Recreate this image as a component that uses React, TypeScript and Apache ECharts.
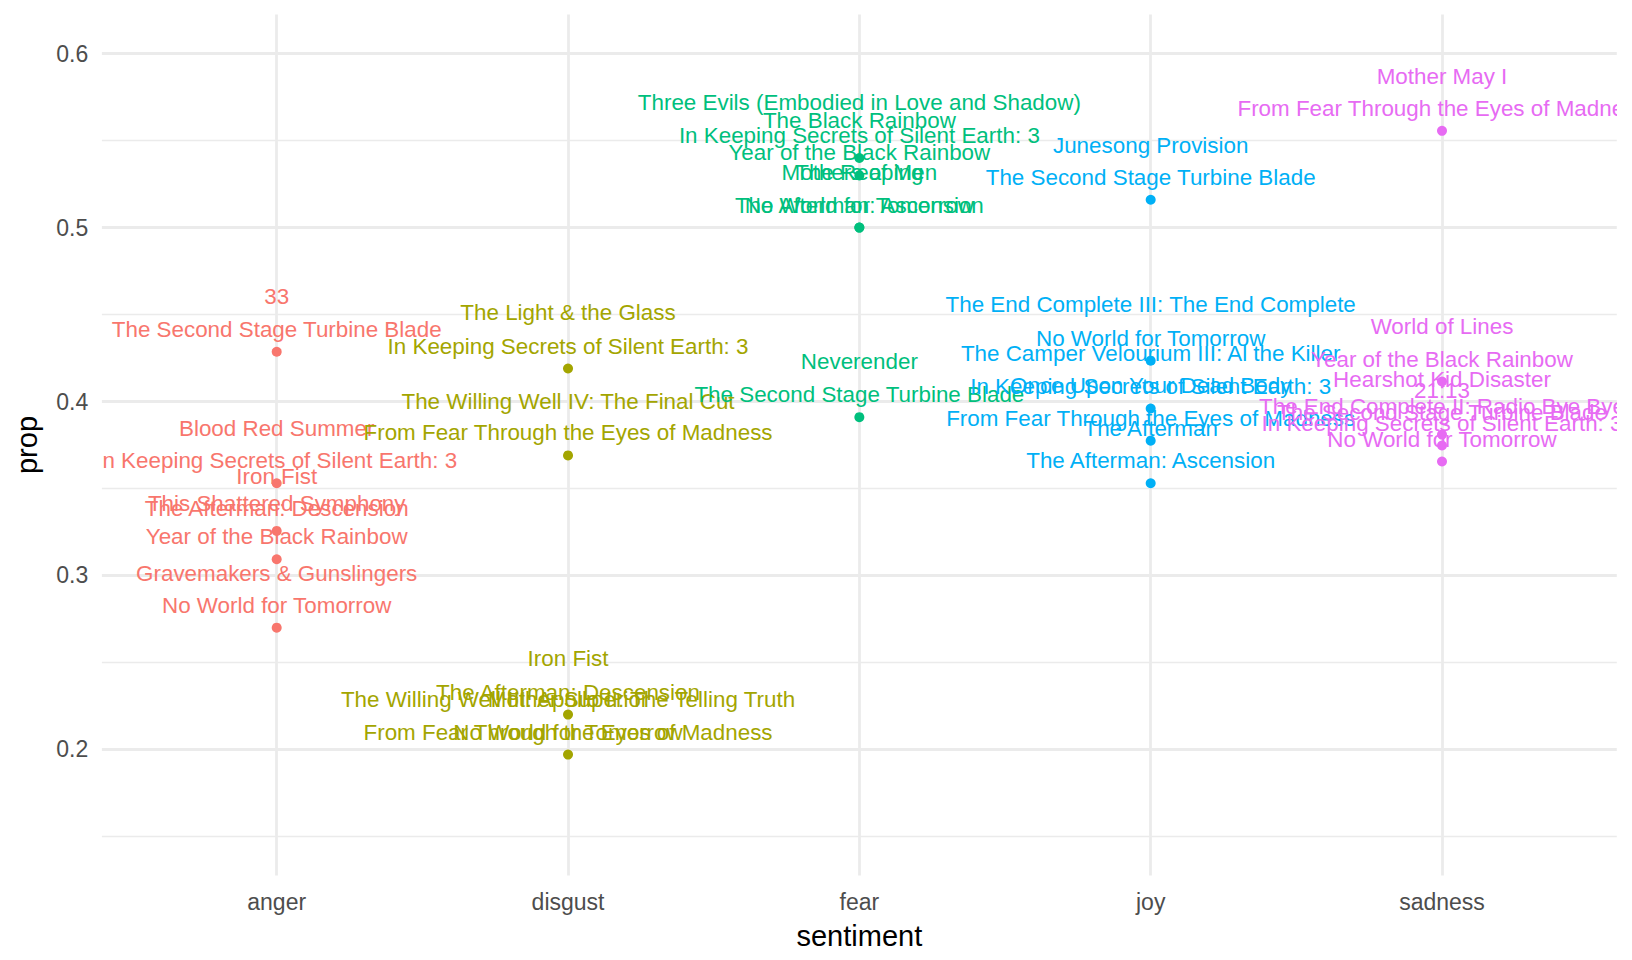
import React, { useEffect, useRef } from "react";
import * as echarts from "echarts";

const FONT = '"Liberation Sans", Arial, sans-serif';

const sentiments = ["anger", "disgust", "fear", "joy", "sadness"];
const sentimentColors = ["#F8766D", "#A3A500", "#00BF7D", "#00B0F6", "#E76BF3"];

// Albums: drawn as points and labelled
const angerAlbums = [
  "The Second Stage Turbine Blade",
  "In Keeping Secrets of Silent Earth: 3",
  "The Afterman: Descension",
  "Year of the Black Rainbow",
  "No World for Tomorrow",
];
const angerAlbumProps = [0.4286, 0.353, 0.3256, 0.3093, 0.27];
// Songs: labels only
const angerSongs = ["33", "Blood Red Summer", "Iron Fist", "This Shattered Symphony", "Gravemakers & Gunslingers"];
const angerSongProps = [0.4473, 0.3713, 0.3439, 0.3283, 0.288];

const disgustAlbums = [
  "In Keeping Secrets of Silent Earth: 3",
  "From Fear Through the Eyes of Madness",
  "The Afterman: Descension",
  "No World for Tomorrow",
];
const disgustAlbumProps = [0.419, 0.369, 0.22, 0.197];
const disgustSongs = [
  "The Light & the Glass",
  "The Willing Well IV: The Final Cut",
  "Iron Fist",
  "The Willing Well III: Apollo II: The Telling Truth",
  "Mother Superior",
  "From Fear Through the Eyes of Madness",
];
const disgustSongProps = [0.4384, 0.387, 0.2391, 0.2155, 0.2155, 0.197];

const fearAlbums = [
  "In Keeping Secrets of Silent Earth: 3",
  "Year of the Black Rainbow",
  "The Afterman: Ascension",
  "No World for Tomorrow",
  "The Second Stage Turbine Blade",
];
const fearAlbumProps = [0.54, 0.53, 0.5, 0.5, 0.391];
const fearSongs = [
  "Three Evils (Embodied in Love and Shadow)",
  "The Black Rainbow",
  "Mothers of Men",
  "The Reaping",
  "Neverender",
];
const fearSongProps = [0.5591, 0.5489, 0.5188, 0.5188, 0.41];

const joyAlbums = [
  "The Second Stage Turbine Blade",
  "No World for Tomorrow",
  "In Keeping Secrets of Silent Earth: 3",
  "From Fear Through the Eyes of Madness",
  "The Afterman: Ascension",
];
const joyAlbumProps = [0.516, 0.4235, 0.396, 0.3775, 0.353];
const joySongs = [
  "Junesong Provision",
  "The End Complete III: The End Complete",
  "The Camper Velourium III: Al the Killer",
  "Once Upon Your Dead Body",
  "The Afterman",
];
const joySongProps = [0.5345, 0.4426, 0.4148, 0.3962, 0.3717];

const sadnessAlbums = [
  "From Fear Through the Eyes of Madness",
  "Year of the Black Rainbow",
  "The Second Stage Turbine Blade",
  "In Keeping Secrets of Silent Earth: 3",
  "No World for Tomorrow",
];
const sadnessAlbumProps = [0.5556, 0.4115, 0.381, 0.3747, 0.3655];
const sadnessSongs = [
  "Mother May I",
  "World of Lines",
  "Hearshot Kid Disaster",
  "21:13",
  "The End Complete II: Radio Bye Bye",
];
const sadnessSongProps = [0.5742, 0.4301, 0.3995, 0.3933, 0.3841];

const LABEL_NUDGE = 0.0129;

const groups = [
  { albums: angerAlbums, albumProps: angerAlbumProps, songs: angerSongs, songProps: angerSongProps },
  { albums: disgustAlbums, albumProps: disgustAlbumProps, songs: disgustSongs, songProps: disgustSongProps },
  { albums: fearAlbums, albumProps: fearAlbumProps, songs: fearSongs, songProps: fearSongProps },
  { albums: joyAlbums, albumProps: joyAlbumProps, songs: joySongs, songProps: joySongProps },
  { albums: sadnessAlbums, albumProps: sadnessAlbumProps, songs: sadnessSongs, songProps: sadnessSongProps },
];

export default function App() {
  const ref = useRef<HTMLDivElement>(null);

  useEffect(() => {
    if (!ref.current) return;
    const chart = echarts.init(ref.current, null, { renderer: "svg" });

    const labelItems: { value: number[]; text: string; color: string }[] = [];
    groups.forEach((g, i) => {
      g.albums.forEach((t, j) =>
        labelItems.push({ value: [i + 1, g.albumProps[j]], text: t, color: sentimentColors[i] })
      );
      g.songs.forEach((t, j) =>
        labelItems.push({ value: [i + 1, g.songProps[j]], text: t, color: sentimentColors[i] })
      );
    });

    const pointSeries = groups.map((g, i) => ({
      type: "scatter",
      name: sentiments[i],
      data: g.albumProps.map((v) => [i + 1, v]),
      symbol: "circle",
      symbolSize: 10,
      itemStyle: { color: sentimentColors[i], opacity: 1 },
      z: 2,
      silent: true,
    }));

    const labelSeries = {
      type: "custom",
      clip: true,
      z: 5,
      silent: true,
      data: labelItems.map((d) => d.value),
      renderItem: (params: any, api: any) => {
        const item = labelItems[params.dataIndex];
        const p = api.coord([api.value(0), api.value(1) + LABEL_NUDGE]);
        return {
          type: "text",
          x: p[0],
          y: p[1],
          style: {
            text: item.text,
            fill: item.color,
            fontSize: 22.4,
            fontFamily: FONT,
            align: "center",
            verticalAlign: "middle",
          },
        };
      },
    };

    const gridColor = "#EBEBEB";

    chart.setOption({
      animation: false,
      backgroundColor: "#ffffff",
      grid: {
        left: 101.9,
        right: 15.2,
        top: 14.5,
        bottom: 84.5,
        containLabel: false,
        outerBoundsMode: "none",
      },
      xAxis: {
        type: "value",
        min: 0.4,
        max: 5.6,
        axisLine: { show: false },
        axisTick: { show: false },
        axisLabel: {
          show: true,
          showMinLabel: false,
          showMaxLabel: false,
          margin: 15,
          color: "#4D4D4D",
          fontSize: 23,
          fontFamily: FONT,
          formatter: (v: number) => {
            const r = Math.round(v);
            return Math.abs(v - r) < 1e-6 && r >= 1 && r <= sentiments.length ? sentiments[r - 1] : "";
          },
        },
        splitLine: {
          show: true,
          showMinLine: false,
          showMaxLine: false,
          lineStyle: { color: gridColor, width: 2.8 },
        },
        minorSplitLine: { show: false },
      },
      yAxis: {
        type: "value",
        min: 0.1275,
        max: 0.6225,
        axisLine: { show: false },
        axisTick: { show: false },
        minorTick: { show: false, splitNumber: 2 },
        axisLabel: {
          show: true,
          showMinLabel: false,
          showMaxLabel: false,
          margin: 13.6,
          color: "#4D4D4D",
          fontSize: 23,
          fontFamily: FONT,
          formatter: (v: number) => v.toFixed(1),
        },
        splitLine: {
          show: true,
          showMinLine: false,
          showMaxLine: false,
          lineStyle: { color: gridColor, width: 2.8 },
        },
        minorSplitLine: {
          show: true,
          lineStyle: { color: gridColor, width: 1.4 },
        },
      },
      graphic: [
        {
          type: "text",
          x: 859.35,
          y: 936,
          silent: true,
          style: {
            text: "sentiment",
            fill: "#000000",
            fontSize: 29,
            fontFamily: FONT,
            align: "center",
            verticalAlign: "middle",
          },
        },
        {
          type: "text",
          x: 26.7,
          y: 445,
          rotation: Math.PI / 2,
          silent: true,
          style: {
            text: "prop",
            fill: "#000000",
            fontSize: 29,
            fontFamily: FONT,
            align: "center",
            verticalAlign: "middle",
          },
        },
      ],
      series: [...pointSeries, labelSeries],
    });

    return () => {
      chart.dispose();
    };
  }, []);

  return (
    <div
      ref={ref}
      style={{ position: "fixed", left: 0, top: 0, width: 1632, height: 960, background: "#ffffff" }}
    />
  );
}
